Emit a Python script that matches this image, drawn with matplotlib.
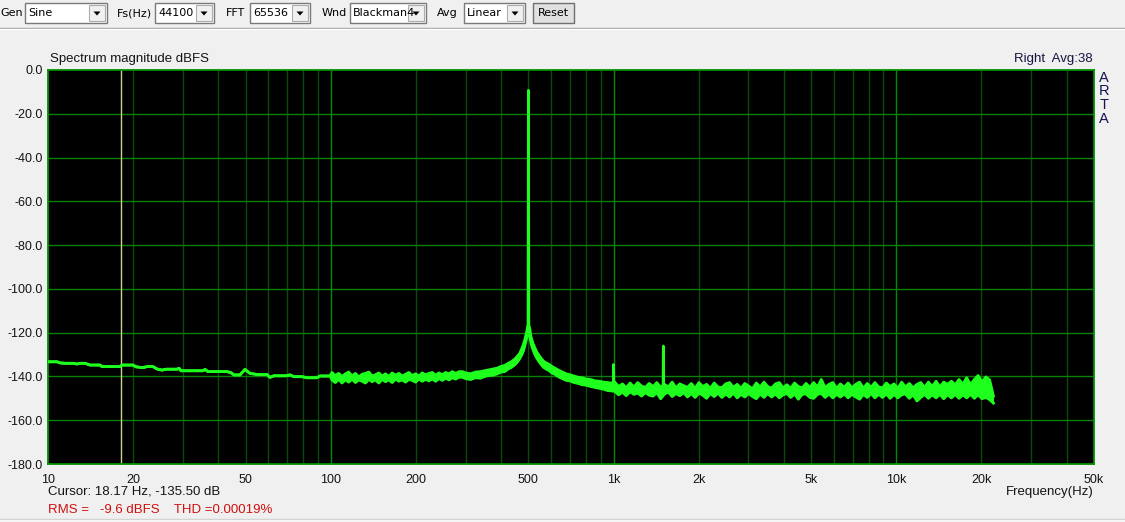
import numpy as np
import matplotlib
matplotlib.use("Agg")
import matplotlib.pyplot as plt
from matplotlib.patches import Rectangle, Polygon

plt.rcParams['font.family'] = ['Liberation Sans', 'DejaVu Sans']

# ---------------- data ----------------
# low-frequency part of the spectrum (Hz, dBFS) - a single thin trace
low_freq = [10.0, 10.76, 11.03, 11.48, 12.26, 12.66, 12.98, 13.52, 13.85, 14.08,
            15.27, 15.52, 17.97, 18.27, 19.98, 20.47, 21.67, 22.39, 23.51, 24.29,
            25.30, 26.14, 28.59, 29.06, 29.54, 35.33, 35.91, 36.79, 42.96, 44.38,
            45.47, 47.75, 49.73, 51.80, 54.84, 59.48, 60.95, 62.98, 69.44, 71.74,
            74.12, 79.10, 82.39, 89.38, 91.59, 99.35]
low_db = [-133.3, -133.3, -133.8, -134.0, -134.0, -134.3, -134.0, -134.0, -134.5, -134.8,
          -134.8, -135.5, -135.5, -134.8, -134.8, -135.6, -136.0, -135.5, -135.5, -136.6,
          -137.1, -136.7, -136.7, -136.3, -137.4, -137.4, -136.8, -137.8, -137.8, -138.3,
          -139.3, -139.3, -136.8, -138.6, -139.1, -139.1, -140.4, -139.7, -139.7, -139.3,
          -140.1, -140.1, -140.6, -140.6, -139.8, -139.8]

# 100 .. 290 Hz noise floor: max / min per display column (columns evenly spaced on log axis)
mid_range = (101.0, 292.0)
mid_top = [-138.2, -139.6, -138.6, -140.0, -138.8, -138.0, -139.8, -138.6, -140.2, -139.0,
           -138.6, -138.0, -139.8, -139.2, -138.4, -139.8, -138.8, -140.0, -138.4, -139.4,
           -138.6, -139.8, -139.0, -138.2, -139.6, -138.8, -139.8, -138.4, -139.2, -138.6,
           -138.2, -139.4, -138.4, -139.2, -138.2, -138.8, -137.8, -138.6, -137.8, -137.8]
mid_bot = [-141.6, -142.8, -141.4, -143.0, -141.6, -142.6, -141.2, -142.8, -141.6, -142.2,
           -143.0, -141.4, -142.4, -141.6, -143.0, -141.4, -142.4, -141.6, -142.8, -141.2,
           -142.2, -141.6, -142.6, -141.4, -141.8, -142.6, -141.2, -142.2, -141.4, -142.0,
           -141.2, -142.2, -141.0, -141.8, -140.8, -141.6, -140.6, -141.2, -140.4, -140.4]

# skirt around the 500 Hz test tone: max / min per column
skirt_freq = [300, 312, 325, 338, 350, 362, 375, 388, 400, 412,
              424, 436, 448, 458, 466, 474, 481, 486, 490, 494,
              497, 503, 506, 510, 515, 520, 527, 535, 545, 555,
              565, 577, 590, 605, 620, 640, 660, 680, 700, 725,
              750, 775, 800, 830, 860, 890, 920, 950, 980]
skirt_top = [-138.4, -138.8, -138.0, -137.8, -137.4, -137.0, -136.6, -136.2, -135.4, -135.0,
             -134.0, -133.2, -132.0, -130.6, -129.4, -127.2, -125.0, -123.0, -121.0, -119.0,
             -117.0, -117.0, -118.6, -121.6, -123.6, -125.2, -127.0, -128.8, -130.4, -131.8,
             -133.0, -133.8, -134.4, -135.4, -136.2, -137.2, -138.0, -138.8, -139.2, -139.8,
             -140.4, -140.6, -141.2, -141.4, -142.0, -142.2, -142.6, -142.8, -143.0]
skirt_bot = [-141.0, -141.4, -140.6, -140.8, -140.0, -139.6, -139.4, -138.8, -138.0, -137.8,
             -136.6, -135.8, -134.6, -133.2, -131.8, -130.0, -128.0, -125.8, -124.0, -122.0,
             -121.0, -121.0, -121.8, -124.6, -126.6, -128.0, -130.0, -131.6, -133.2, -134.6,
             -135.8, -136.6, -137.2, -138.4, -139.0, -140.2, -141.0, -141.8, -142.0, -142.8,
             -143.2, -143.8, -144.0, -144.6, -145.0, -145.4, -145.8, -146.4, -146.6]

# fundamental and harmonics (narrow lines)
tone_freq = [498.5, 500.0, 501.5]
tone_db = [-117.0, -9.3, -117.0]
h2_freq = [997, 1000, 1003]
h2_db = [-146.0, -134.6, -146.0]
h3_freq = [1496, 1500, 1504]
h3_db = [-148.0, -126.1, -148.0]

# 1.01k .. 22.05k noise floor: max / min per column (columns evenly spaced on log axis)
hi_range = (1010.0, 22050.0)
hi_top = [-142.6, -144.6, -143.4, -145.2, -143.0, -144.8, -142.8, -144.4, -145.0, -143.2,
          -144.6, -142.8, -145.0, -143.6, -144.8, -142.6, -145.2, -143.4, -144.2, -145.0,
          -143.2, -145.4, -142.8, -144.6, -143.6, -145.4, -143.0, -144.8, -145.2, -143.4,
          -142.8, -145.0, -143.6, -145.4, -143.2, -144.4, -145.6, -143.0, -144.8, -142.6,
          -144.6, -145.4, -143.4, -142.8, -145.2, -143.8, -145.4, -143.0, -144.6, -145.2,
          -143.2, -145.0, -142.8, -144.8, -141.4, -145.2, -143.6, -142.8, -145.4, -143.4,
          -145.0, -143.0, -145.2, -143.6, -142.6, -145.4, -143.2, -145.0, -142.8, -144.8,
          -145.2, -143.0, -144.6, -143.4, -145.4, -142.6, -144.8, -143.2, -145.2, -143.6,
          -142.8, -145.0, -142.6, -144.6, -142.2, -144.8, -142.6, -143.6, -142.2, -143.8,
          -141.4, -143.6, -140.6, -143.8, -141.4, -139.6, -142.6, -140.2, -141.6, -149.0]
hi_bot = [-146.8, -148.4, -147.2, -148.8, -147.0, -148.2, -147.6, -149.0, -147.4, -148.6,
          -149.0, -147.4, -150.2, -148.0, -147.2, -149.2, -147.8, -148.8, -147.4, -149.4,
          -147.8, -149.6, -147.6, -148.6, -150.0, -147.8, -149.2, -147.6, -149.6, -148.0,
          -149.4, -147.6, -149.8, -148.2, -149.4, -147.8, -149.2, -150.2, -148.0, -149.6,
          -147.8, -149.4, -148.0, -149.8, -148.4, -147.8, -149.6, -148.0, -150.4, -148.2,
          -148.0, -149.6, -150.0, -148.2, -147.8, -149.6, -148.0, -149.8, -148.2, -149.4,
          -148.0, -149.8, -148.2, -149.4, -150.4, -148.2, -149.6, -147.8, -149.8, -148.2,
          -149.6, -148.0, -150.0, -148.2, -149.8, -148.4, -148.0, -150.0, -148.4, -151.2,
          -149.6, -148.2, -150.0, -148.4, -149.8, -148.2, -150.2, -148.4, -149.8, -148.2,
          -150.0, -148.4, -149.8, -148.2, -150.0, -148.4, -150.2, -149.6, -150.6, -152.2]

cursor_freq = 18.17
y_ticks = [0, -20, -40, -60, -80, -100, -120, -140, -160, -180]
x_tick_freqs = [10, 20, 50, 100, 200, 500, 1000, 2000, 5000, 10000, 20000, 50000]
x_tick_labels = ['10', '20', '50', '100', '200', '500', '1k', '2k', '5k', '10k', '20k', '50k']

# ---------------- assemble trace ----------------
mid_freq = np.geomspace(mid_range[0], mid_range[1], len(mid_top))
hi_freq = np.geomspace(hi_range[0], hi_range[1], len(hi_top))
freq = np.concatenate([low_freq, mid_freq, skirt_freq, hi_freq])
top = np.concatenate([low_db, mid_top, skirt_top, hi_top])
bot = np.concatenate([low_db, mid_bot, skirt_bot, hi_bot])

# ---------------- figure ----------------
W, H = 1125, 522
fig = plt.figure(figsize=(W / 100, H / 100), dpi=100, facecolor='#f0f0f0')

# overlay in pixel coordinates for the window chrome and texts
ov = fig.add_axes([0, 0, 1, 1], zorder=0)
ov.set_xlim(0, W)
ov.set_ylim(H, 0)
ov.axis('off')
ov.patch.set_alpha(0)

tb_font = dict(family='DejaVu Sans', size=8, color='#000000', va='center')

def combo(x0, x1, text):
    ov.add_patch(Rectangle((x0, 3), x1 - x0, 20, fc='white', ec='#7a7a7a', lw=1))
    ov.add_patch(Rectangle((x1 - 18, 5), 16, 16, fc='#f0f0f0', ec='#adadad', lw=0.8))
    cx = x1 - 10
    ov.add_patch(Polygon([(cx - 3.5, 11.5), (cx + 3.5, 11.5), (cx, 15.5)], closed=True,
                         fc='black', ec='none'))
    ov.text(x0 + 3, 13.5, text, **tb_font)

ov.text(0, 13.5, 'Gen', **tb_font)
combo(25, 107, 'Sine')
ov.text(117, 13.5, 'Fs(Hz)', **tb_font)
combo(155, 214, '44100')
ov.text(226, 13.5, 'FFT', **tb_font)
combo(250, 310, '65536')
ov.text(322, 13.5, 'Wnd', **tb_font)
combo(350, 426, 'Blackman4')
ov.text(437, 13.5, 'Avg', **tb_font)
combo(464, 525, 'Linear')
ov.add_patch(Rectangle((533, 3), 41, 20, fc='#e1e1e1', ec='#707070', lw=1))
ov.text(553.5, 13.5, 'Reset', ha='center', **tb_font)
ov.plot([0, W], [27.5, 27.5], color='#a0a0a0', lw=1)
ov.plot([0, W], [28.5, 28.5], color='#ffffff', lw=1)
ov.plot([0, W], [519.5, 519.5], color='#ffffff', lw=1)
ov.plot([0, W], [518.5, 518.5], color='#d4d4d4', lw=1)

txt = dict(size=9.5, va='center', color='#141414')
ov.text(50, 59, 'Spectrum magnitude dBFS', ha='left', **txt)
ov.text(1093, 59, 'Right  Avg:38', ha='right', color='#141440', size=9.5, va='center')
for i, ch in enumerate('ARTA'):
    ov.text(1104, 77.5 + i * 13.7, ch, ha='center', va='center', size=10.5, color='#141450')
ov.text(48, 492, 'Cursor: 18.17 Hz, -135.50 dB', ha='left', **txt)
ov.text(1094, 492, 'Frequency(Hz)', ha='right', **txt)
ov.text(48, 510, 'RMS =   -9.6 dBFS    THD =0.00019%', ha='left', size=9.5, va='center',
        color='#d01010')

# main plot area
left, right, top_px, bottom_px = 48, 1094, 70, 464
ax = fig.add_axes([left / W, (H - bottom_px) / H, (right - left) / W, (bottom_px - top_px) / H],
                  zorder=1)
ax.set_facecolor('black')
ax.set_xscale('log')
ax.set_xlim(10, 50000)
ax.set_ylim(-180, 0)

# grid
for dec in [10, 100, 1000, 10000]:
    for m in range(1, 10):
        f = dec * m
        if f <= 10 or f >= 50000:
            continue
        if m == 1:
            ax.axvline(f, color='#008a00', lw=1.0, zorder=1)
        else:
            ax.axvline(f, color='#0b4a0b', lw=1.0, zorder=1)
for yv in y_ticks[1:-1]:
    ax.axhline(yv, color='#0a800a', lw=1.0, zorder=1)

ax.axvline(cursor_freq, color='#d2d28c', lw=1.0, zorder=2)

G = '#1eff1e'
ax.fill_between(freq, bot, top, color=G, lw=0, zorder=3)
ax.plot(freq, top, color=G, lw=2.0, zorder=3)
ax.plot(freq, bot, color=G, lw=2.0, zorder=3)
for fx, dy in [(tone_freq, tone_db), (h2_freq, h2_db), (h3_freq, h3_db)]:
    ax.plot(fx, dy, color=G, lw=2.0, zorder=3)

for s in ax.spines.values():
    s.set_color('#009000')
    s.set_linewidth(1.3)

ax.set_yticks(y_ticks)
ax.set_yticklabels(['%.1f' % v for v in y_ticks])
ax.set_xticks(x_tick_freqs)
ax.set_xticklabels(x_tick_labels)
ax.xaxis.set_minor_locator(matplotlib.ticker.NullLocator())
ax.tick_params(axis='both', length=0, labelsize=9, labelcolor='#141414')
ax.tick_params(axis='y', pad=4)
ax.tick_params(axis='x', pad=7)

fig.savefig('out.png', dpi=100, facecolor=fig.get_facecolor())
